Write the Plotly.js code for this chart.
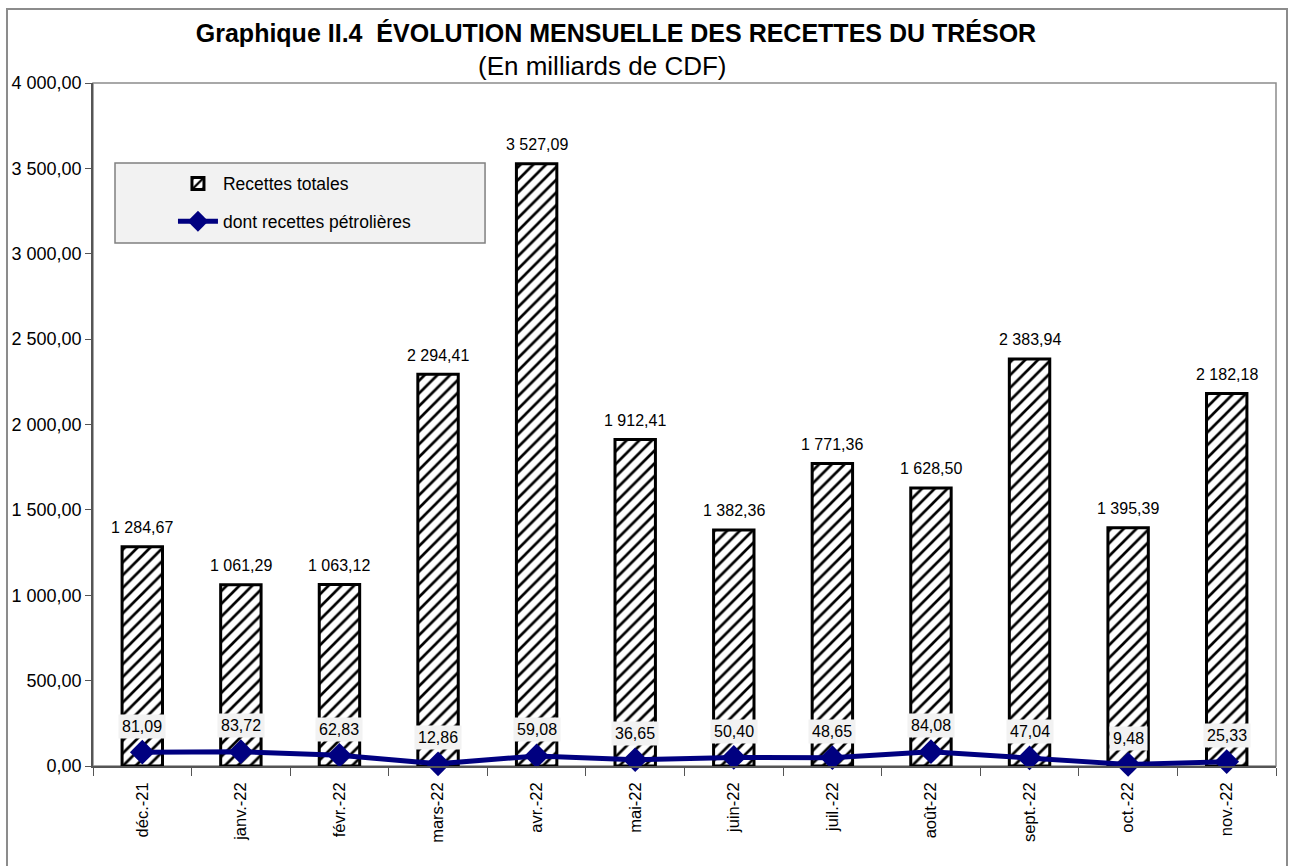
<!DOCTYPE html>
<html>
<head>
<meta charset="utf-8">
<script src="https://cdn.plot.ly/plotly-3.0.1.min.js"></script>
<style>html,body{margin:0;padding:0;background:#fff}#chart{width:1290px;height:866px}</style>
</head>
<body>
<div id="chart"></div>
<script>
const months = ["déc.-21","janv.-22","févr.-22","mars-22","avr.-22","mai-22","juin-22","juil.-22","août-22","sept.-22","oct.-22","nov.-22"];
const totalRevenue = [1284.67,1061.29,1063.12,2294.41,3527.09,1912.41,1382.36,1771.36,1628.50,2383.94,1395.39,2182.18];
const oilRevenue = [81.09,83.72,62.83,12.86,59.08,36.65,50.40,48.65,84.08,47.04,9.48,25.33];
const yTicks = [0,500,1000,1500,2000,2500,3000,3500,4000];

const FONT = "Liberation Sans, Arial, sans-serif";

function frNum(v) {
  const parts = v.toFixed(2).split(".");
  const intPart = parts[0].replace(/\B(?=(\d{3})+(?!\d))/g, " ");
  return intPart + "," + parts[1];
}

const bars = {
  type: "bar", name: "Recettes totales", x: months, y: totalRevenue,
  width: 0.41,
  marker: {color: "#ffffff", line: {color: "#000000", width: 3},
           pattern: {shape: "/", fgcolor: "#000000", bgcolor: "#ffffff", size: 9, solidity: 0.3}},
  legendgroup: "a", hoverinfo: "x+y"
};
const line = {
  type: "scatter", mode: "lines+markers", name: "dont recettes pétrolières",
  x: months, y: oilRevenue,
  line: {color: "#000080", width: 5},
  marker: {symbol: "diamond", size: 19, color: "#000080"},
  legendgroup: "b", cliponaxis: false
};

const barLabels = months.map((m, i) => ({
  x: m, y: totalRevenue[i], xref: "x", yref: "y",
  text: frNum(totalRevenue[i]), showarrow: false, yshift: 19,
  font: {family: FONT, size: 16, color: "#000"}
}));
const lineLabels = months.map((m, i) => ({
  x: m, y: oilRevenue[i], xref: "x", yref: "y",
  text: frNum(oilRevenue[i]),
  showarrow: false, yshift: 26, bgcolor: "#f2f2f2", borderpad: 3,
  font: {family: FONT, size: 16, color: "#000"}
}));
const subtitle = {
  xref: "paper", yref: "paper", x: 0.4303, y: 1.0249, xanchor: "center", yanchor: "middle",
  text: "(En milliards de CDF)", showarrow: false,
  font: {family: FONT, size: 26, color: "#000"}
};

const layout = {
  width: 1290, height: 866,
  margin: {l: 93, r: 14, t: 83, b: 100},
  paper_bgcolor: "#ffffff", plot_bgcolor: "#ffffff",
  separators: ", ",
  font: {family: FONT, color: "#000"},
  title: {
    text: "<b>Graphique II.4  ÉVOLUTION MENSUELLE DES RECETTES DU TRÉSOR</b>",
    x: 0.4775, xanchor: "center", xref: "container",
    y: 0.9619, yanchor: "middle", yref: "container",
    font: {family: FONT, size: 25, color: "#000"}
  },
  showlegend: true,
  legend: {
    x: 0.0676, y: 0.879, xanchor: "left", yanchor: "top",
    bgcolor: "rgba(0,0,0,0)", borderwidth: 0,
    font: {family: FONT, size: 17.5, color: "#000"},
    traceorder: "grouped", tracegroupgap: 12, itemwidth: 40
  },
  xaxis: {
    type: "category", range: [-0.5, 11.5], tickangle: -90,
    tickfont: {family: FONT, size: 16.5, color: "#000"},
    showline: true, linecolor: "#555", linewidth: 1.5,
    ticks: "outside", tickson: "boundaries", ticklen: 8, tickcolor: "#555",
    ticklabelstandoff: 8,
    showgrid: false, zeroline: false
  },
  yaxis: {
    range: [0, 4000], tickvals: yTicks, tickformat: ",.2f",
    tickfont: {family: FONT, size: 18, color: "#000"},
    showline: true, linecolor: "#555", linewidth: 1.5,
    ticks: "outside", ticklen: 6, tickcolor: "#555",
    showgrid: false, zeroline: false
  },
  annotations: barLabels.concat(lineLabels, [subtitle]),
  shapes: [
    {type: "rect", xref: "paper", yref: "paper", x0: 0, x1: 1, y0: 0, y1: 1,
     line: {color: "#8c8c8c", width: 1.5}, layer: "below"},
    {type: "rect", xref: "paper", yref: "paper", x0: -0.0727, x1: 1.0093, y0: -0.16, y1: 1.1083,
     line: {color: "#8c8c8c", width: 2}, layer: "below"},
    {type: "rect", xref: "paper", yref: "paper", x0: 0.0186, x1: 0.3314, y0: 0.7657, y1: 0.8829,
     fillcolor: "#f2f2f2", line: {color: "#808080", width: 1.5}, layer: "above"}
  ]
};

Plotly.newPlot("chart", [bars, line], layout, {displayModeBar: false});
</script>
</body>
</html>
